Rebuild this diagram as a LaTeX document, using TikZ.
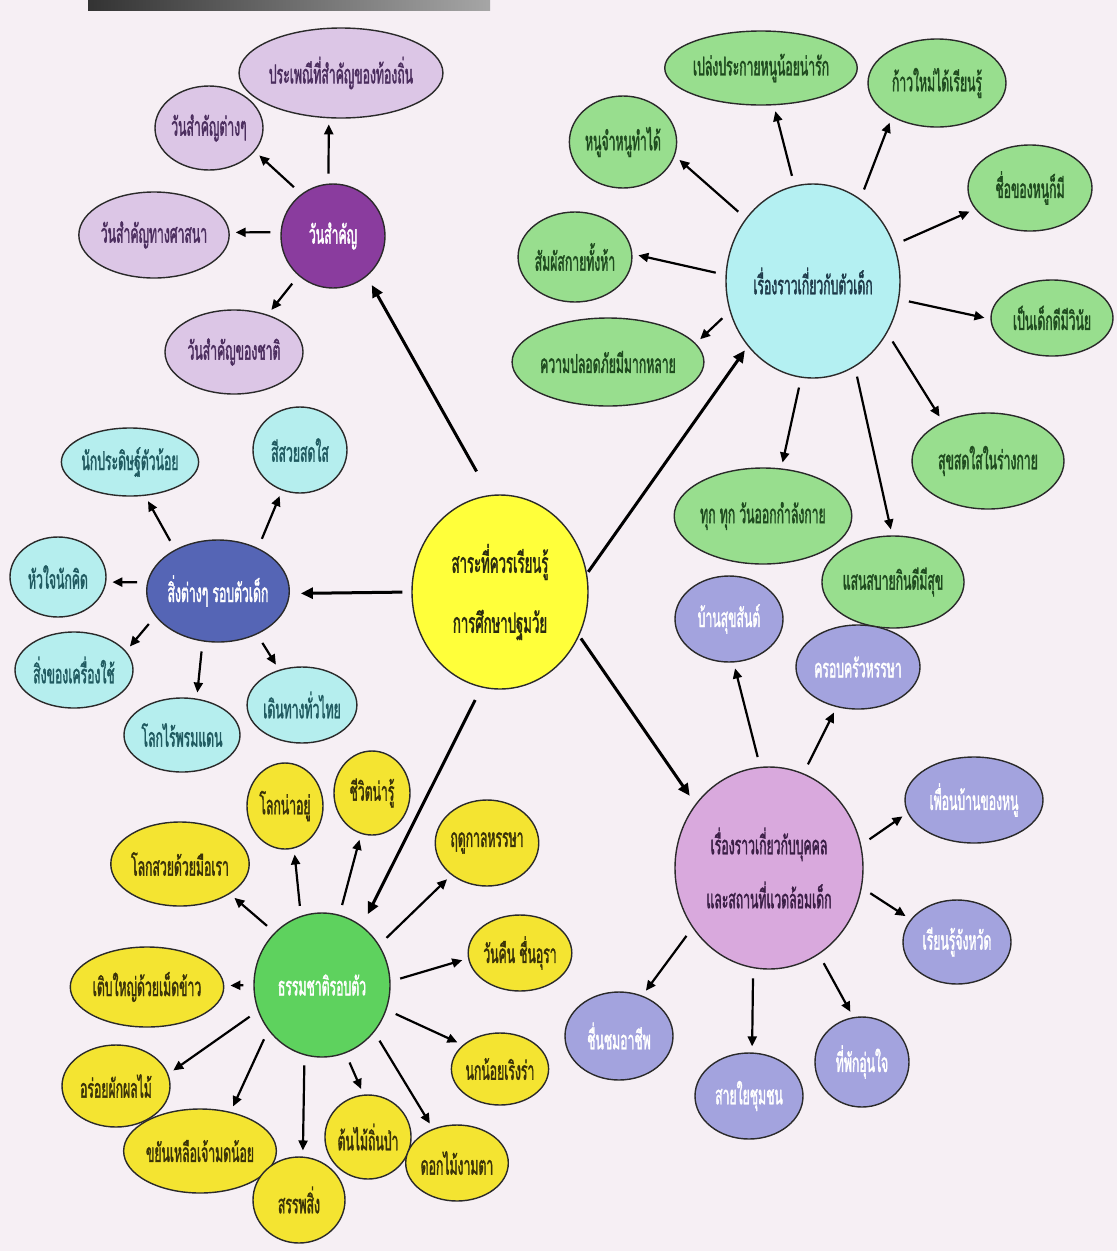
\documentclass[tikz,border=0pt]{standalone}
\usepackage{fontspec}
\newfontfamily\thai[Script=Thai,FakeStretch=0.47,FakeBold=1.3]{Loma}
\usetikzlibrary{shapes.geometric,arrows.meta}
\definecolor{bgc}{HTML}{F6EFF4}
\definecolor{outl}{HTML}{2A2A2A}
\definecolor{lilacf}{HTML}{DCC6E6}
\definecolor{lilact}{HTML}{4B2D5E}
\definecolor{lilachubf}{HTML}{8A3C9E}
\definecolor{grnf}{HTML}{98DE8E}
\definecolor{grnt}{HTML}{1E4A1E}
\definecolor{cyanhubf}{HTML}{B4F0F2}
\definecolor{cyanhubt}{HTML}{1E3A4A}
\definecolor{cynf}{HTML}{B5EEEE}
\definecolor{cynt}{HTML}{1F5A60}
\definecolor{bluehubf}{HTML}{5565B5}
\definecolor{ylwf}{HTML}{F4E431}
\definecolor{ylwt}{HTML}{3A3208}
\definecolor{ctrf}{HTML}{FFFF3A}
\definecolor{ctrt}{HTML}{2A2A10}
\definecolor{grnhubf}{HTML}{5ED25E}
\definecolor{pinkhubf}{HTML}{D9A9DD}
\definecolor{pinkhubt}{HTML}{3A1E45}
\definecolor{lavf}{HTML}{A3A3DE}
\newcommand\ar[4]{\draw[conn] (#1.#2) -- (#3.#4);}
\newcommand\mar[6]{\draw[mconn, shorten <=#5pt, shorten >=#6pt] (#1.#2) -- (#3.#4);}
\begin{document}
\begin{tikzpicture}[x=1pt,y=-1pt,
  bub/.style={ellipse, draw=outl, line width=1.4pt, inner sep=0pt, align=center,
    font=\thai\fontsize{26}{30}\selectfont},
  sz/.style 2 args={minimum width=2*#1pt, minimum height=2*#2pt},
  lilac/.style={bub, fill=lilacf, text=lilact},
  lilachub/.style={bub, fill=lilachubf, text=white},
  grn/.style={bub, fill=grnf, text=grnt},
  cyanhub/.style={bub, fill=cyanhubf, text=cyanhubt},
  cyn/.style={bub, fill=cynf, text=cynt},
  bluehub/.style={bub, fill=bluehubf, text=white},
  ylw/.style={bub, fill=ylwf, text=ylwt},
  ctr/.style={bub, fill=ctrf, text=ctrt, font=\thai\fontsize{28}{60}\selectfont},
  grnhub/.style={bub, fill=grnhubf, text=white},
  pinkhub/.style={bub, fill=pinkhubf, text=pinkhubt, font=\thai\fontsize{26}{54}\selectfont},
  lav/.style={bub, fill=lavf, text=white},
  conn/.style={line width=2.2pt, draw=black, -{Triangle[length=10pt,width=9pt]}, shorten <=10pt, shorten >=6pt},
  mconn/.style={line width=3pt, draw=black, -{Triangle[length=12pt,width=11pt]}}
]
\useasboundingbox (0,0) rectangle (1117,1251);
\fill[bgc] (0,0) rectangle (1117,1251);
\shade[left color=black!80, right color=black!35] (88,0) rectangle (490,10);

% centre
\node[ctr, sz={88}{97}] (ctr) at (500,592) {สาระที่ควรเรียนรู้\\การศึกษาปฐมวัย};

% purple cluster
\node[lilachub, sz={52}{52}] (hA) at (333,236) {วันสำคัญ};
\node[lilac, sz={91}{45}] (a1) at (341,73) {ประเพณีที่สำคัญของท้องถิ่น};
\node[lilac, sz={54}{42}] (a2) at (209,128) {วันสำคัญต่างๆ};
\node[lilac, sz={69}{43}] (a3) at (154,235) {วันสำคัญทางศาสนา};
\node[lilac, sz={69}{42}] (a4) at (234,352) {วันสำคัญของชาติ};

% cyan hub cluster
\node[cyanhub, sz={87}{97}] (hB) at (813,281) {เรื่องราวเกี่ยวกับตัวเด็ก};
\node[grn, sz={91}{37}] (b1) at (761,68) {เปล่งประกายหนูน้อยน่ารัก};
\node[grn, sz={69}{44}] (b2) at (937,83) {ก้าวใหม่ได้เรียนรู้};
\node[grn, sz={52}{46}] (b3) at (623,142) {หนูจำหนูทำได้};
\node[grn, sz={62}{43}] (b4) at (1030,188) {ชื่อของหนูก็มี};
\node[grn, sz={54}{45}] (b5) at (575,257) {สัมผัสกายทั้งห้า};
\node[grn, sz={61}{38}] (b6) at (1052,318) {เป็นเด็กดีมีวินัย};
\node[grn, sz={83}{44}] (b7) at (608,362) {ความปลอดภัยมีมากหลาย};
\node[grn, sz={76}{48}] (b8) at (763,516) {ทุก ทุก วันออกกำลังกาย};
\node[grn, sz={68}{46}] (b9) at (893,582) {แสนสบายกินดีมีสุข};
\node[grn, sz={76}{48}] (b10) at (988,461) {สุขสดใสในร่างกาย};

% blue cluster
\node[bluehub, sz={68}{51}] (hC) at (218,591) {สิ่งต่างๆ รอบตัวเด็ก};
\node[cyn, sz={65}{34}] (c1) at (130,462) {นักประดิษฐ์ตัวน้อย};
\node[cyn, sz={47}{43}] (c2) at (300,450) {สีสวยสดใส};
\node[cyn, sz={48}{40}] (c3) at (58,577) {หัวใจนักคิด};
\node[cyn, sz={59}{38}] (c4) at (74,670) {สิ่งของเครื่องใช้};
\node[cyn, sz={58}{37}] (c5) at (182,735) {โลกไร้พรมแดน};
\node[cyn, sz={54}{38}] (c6) at (302,705) {เดินทางทั่วไทย};

% yellow cluster
\node[grnhub, sz={68}{72}] (hD) at (322,985) {ธรรมชาติรอบตัว};
\node[ylw, sz={38}{43}] (d1) at (285,806) {โลกน่าอยู่};
\node[ylw, sz={38}{42}] (d2) at (372,793) {ชีวิตน่ารู้};
\node[ylw, sz={68}{42}] (d3) at (180,864) {โลกสวยด้วยมือเรา};
\node[ylw, sz={50}{43}] (d4) at (487,843) {ฤดูกาลหรรษา};
\node[ylw, sz={48}{38}] (d5) at (520,953) {วันคืน ชื่นอุรา};
\node[ylw, sz={71}{40}] (d6) at (147,987) {เติบใหญ่ด้วยเม็ดข้าว};
\node[ylw, sz={54}{41}] (d7) at (116,1086) {อร่อยผักผลไม้};
\node[ylw, sz={68}{42}] (d8) at (200,1151) {ขยันเหลือเจ้ามดน้อย};
\node[ylw, sz={46}{43}] (d9) at (299,1200) {สรรพสิ่ง};
\node[ylw, sz={38}{42}] (d10) at (368,1137) {ต้นไม้ถิ่นป่า};
\node[ylw, sz={48}{38}] (d11) at (457,1163) {ดอกไม้งามตา};
\node[ylw, sz={48}{36}] (d12) at (500,1069) {นกน้อยเริงร่า};

% pink cluster
\node[pinkhub, sz={94}{101}] (hE) at (769,868) {เรื่องราวเกี่ยวกับบุคคล\\และสถานที่แวดล้อมเด็ก};
\node[lav, sz={54}{43}] (e1) at (729,619) {บ้านสุขสันต์};
\node[lav, sz={62}{42}] (e2) at (858,667) {ครอบครัวหรรษา};
\node[lav, sz={69}{43}] (e3) at (974,800) {เพื่อนบ้านของหนู};
\node[lav, sz={54}{42}] (e4) at (957,942) {เรียนรู้จังหวัด};
\node[lav, sz={54}{44}] (e5) at (619,1036) {ชื่นชมอาชีพ};
\node[lav, sz={54}{43}] (e6) at (749,1096) {สายใยชุมชน};
\node[lav, sz={47}{45}] (e7) at (862,1062) {ที่พักอุ่นใจ};

% main arrows
\mar{ctr}{96.5}{hA}{310}{27}{10}
\mar{ctr}{12.4}{hB}{225}{2}{5}
\mar{ctr}{180}{hC}{358.5}{9}{11}
\mar{ctr}{259.5}{hD}{56.7}{14}{13}
\mar{ctr}{331.5}{hE}{139}{3}{10}

% purple arrows
\ar{hA}{95}{a1}{255}
\ar{hA}{127}{a2}{333}
\ar{hA}{176}{a3}{2}
\ar{hA}{229}{a4}{48}

% cyan hub arrows
\ar{hB}{137.8}{b3}{345}
\ar{hB}{101}{b1}{289}
\ar{hB}{60}{b2}{217}
\ar{hB}{24.7}{b4}{201}
\ar{hB}{176}{b5}{3.7}
\ar{hB}{348}{b6}{181}
\ar{hB}{200}{b7}{12}
\ar{hB}{263}{b8}{69.4}
\ar{hB}{296}{b9}{91}
\ar{hB}{325}{b10}{139}

% blue arrows
\ar{hC}{136.7}{c1}{294}
\ar{hC}{47.8}{c2}{246}
\ar{hC}{173}{c3}{354.5}
\ar{hC}{202}{c4}{20.4}
\ar{hC}{253}{c5}{68}
\ar{hC}{312}{c6}{123}

% green hub arrows
\ar{hD}{132}{d3}{329}
\ar{hD}{107.7}{d1}{282}
\ar{hD}{76.5}{d2}{255}
\ar{hD}{35.5}{d4}{222}
\ar{hD}{3.8}{d5}{186.4}
\ar{hD}{180}{d6}{1.5}
\ar{hD}{202.6}{d7}{13.3}
\ar{hD}{220.5}{d8}{52.4}
\ar{hD}{256.6}{d9}{85.6}
\ar{hD}{289}{d10}{96.8}
\ar{hD}{318.5}{d11}{125.4}
\ar{hD}{339}{d12}{147}

% pink arrows
\ar{hE}{95.8}{e1}{276}
\ar{hE}{70}{e2}{242.5}
\ar{hE}{14.6}{e3}{191}
\ar{hE}{348}{e4}{154.6}
\ar{hE}{218.7}{e5}{60}
\ar{hE}{261}{e6}{86.8}
\ar{hE}{300}{e7}{101.5}
\end{tikzpicture}
\end{document}
